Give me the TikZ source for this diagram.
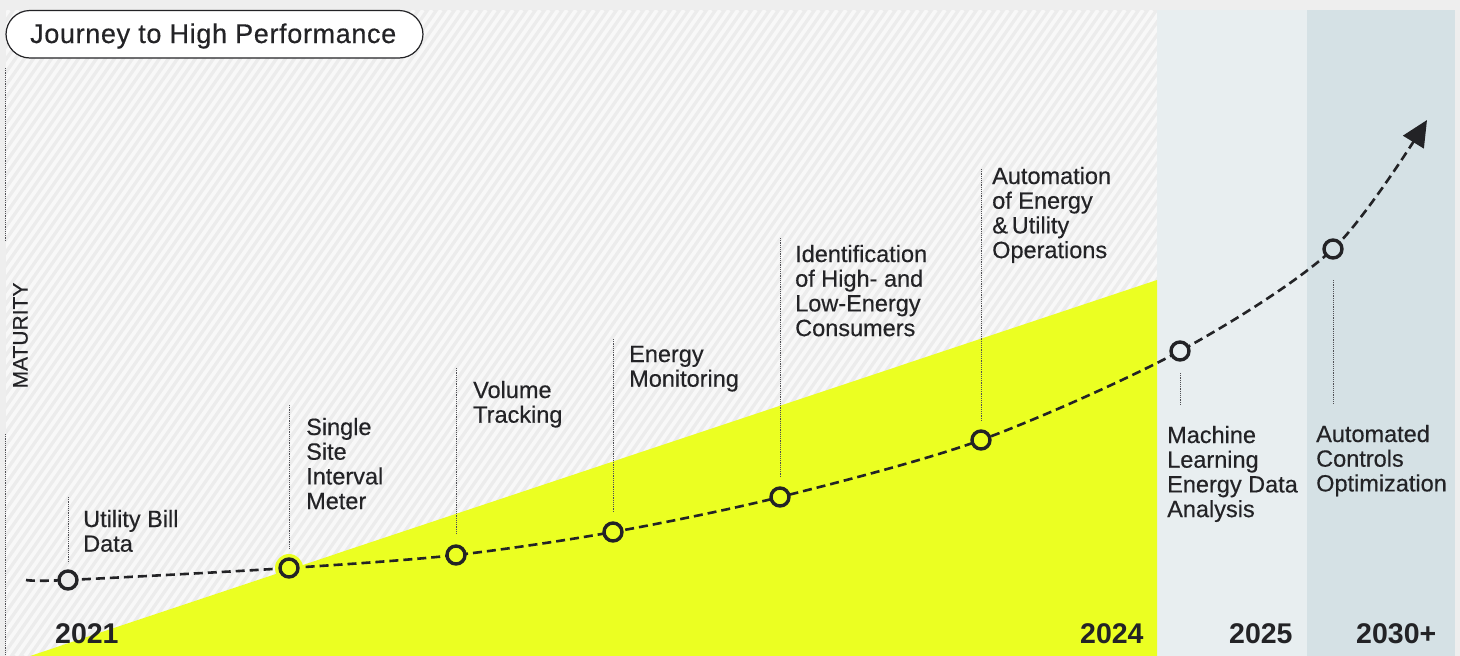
\documentclass[tikz,border=0pt]{standalone}
\usepackage{fontspec}
\setmainfont{Liberation Sans}
\usetikzlibrary{arrows.meta}

\definecolor{outergray}{HTML}{EEEEEE}
\definecolor{hatchbase}{HTML}{ECECEC}
\definecolor{hatchline}{HTML}{F8F8F8}
\definecolor{panelA}{HTML}{E8EEF0}
\definecolor{panelB}{HTML}{D5E1E5}
\definecolor{lime}{HTML}{EBFF22}
\definecolor{ink}{HTML}{232326}
\definecolor{guide}{HTML}{505055}

% stacked label lines; the baseline is that of the first line
\newcommand\stacklines[1]{\vtop{\baselineskip=24.7pt\lineskiplimit=-20pt\tabskip=0pt\halign{##\hfil\cr#1\crcr}}}

\tikzset{
  milestone/.style={circle, draw=ink, line width=3.4pt, minimum size=18pt, inner sep=0pt},
  guideline/.style={draw=guide, line width=0.9pt, dash pattern=on 1.1pt off 1.1pt},
  path line/.style={draw=ink, line width=2.6pt, dash pattern=on 9pt off 5pt},
  steplabel/.style={anchor=base west, inner sep=0pt, text=ink, font=\fontsize{23.5}{24.7}\selectfont\addfontfeature{FakeBold=0.4}},
  yearlabel/.style={anchor=base west, inner sep=0pt, text=ink, font=\fontsize{28.5}{30}\selectfont\bfseries},
}

\begin{document}
\begin{tikzpicture}[x=1pt, y=-1pt]
\useasboundingbox (0,0) rectangle (1460,656);
\fill[outergray] (0,0) rectangle (1460,656);

% hatched field
\fill[hatchbase] (6,10) rectangle (1157,656);
\begin{scope}
  \clip (6,10) rectangle (1157,656);
  \foreach \i in {-470,-461,...,1160}
    \draw[hatchline, line width=3.8pt] (\i,656) -- ++(452,-646);
\end{scope}

% future panels
\fill[panelA] (1157,10) rectangle (1307,656);
\fill[panelB] (1307,10) rectangle (1455,656);

% growth wedge
\fill[lime] (30,656) -- (1157,280) -- (1157,656) -- cycle;

% maturity axis
\coordinate (axA) at (5.5,68);
\coordinate (axB) at (5.5,240);
\coordinate (axC) at (5.5,434);
\coordinate (axD) at (5.5,656);
\draw[guideline] (axA) -- (axB);
\draw[guideline] (axC) -- (axD);
\node[rotate=90, text=ink, inner sep=0pt, font=\fontsize{21}{22}\selectfont\addfontfeature{FakeBold=0.4}] (maturity) at (20.5,335.5) {MATURITY};

% milestone positions
\coordinate (s) at (26,580);
\coordinate (p1) at (68,580);
\coordinate (p2) at (289,568);
\coordinate (p3) at (456,555);
\coordinate (p4) at (613,532);
\coordinate (p5) at (780,497);
\coordinate (p6) at (981,440);
\coordinate (p7) at (1180,351);
\coordinate (p8) at (1333,249);
\coordinate (e) at (1427,120);

% guide lines from milestones to labels
\coordinate (g1a) at (68,497);   \coordinate (g1b) at (68,563);
\coordinate (g2a) at (289,405);  \coordinate (g2b) at (289,550);
\coordinate (g3a) at (456,368);  \coordinate (g3b) at (456,535);
\coordinate (g4a) at (613,339);  \coordinate (g4b) at (613,512);
\coordinate (g5a) at (780,238);  \coordinate (g5b) at (780,477);
\coordinate (g6a) at (981,169);  \coordinate (g6b) at (981,421);
\coordinate (g7a) at (1180,373); \coordinate (g7b) at (1180,404);
\coordinate (g8a) at (1333,280); \coordinate (g8b) at (1333,404);
\foreach \k in {1,...,8} \draw[guideline] (g\k a) -- (g\k b);

% maturity path
\draw[path line, -{Triangle[length=26pt, width=24pt]}]
  plot[smooth, tension=0.5] coordinates {(s) (p1) (p2) (p3) (p4) (p5) (p6) (p7) (p8) (e)};

% milestones
\fill[lime] (p2) circle (14);
\node[milestone, fill=hatchbase] (m1) at (p1) {};
\node[milestone, fill=lime] (m2) at (p2) {};
\node[milestone, fill=lime] (m3) at (p3) {};
\node[milestone, fill=lime] (m4) at (p4) {};
\node[milestone, fill=lime] (m5) at (p5) {};
\node[milestone, fill=lime] (m6) at (p6) {};
\node[milestone, fill=panelA] (m7) at (p7) {};
\node[milestone, fill=panelB] (m8) at (p8) {};

% milestone labels
\node[steplabel] (l1) at (83,527) {\stacklines{Utility Bill\cr Data}};
\node[steplabel] (l2) at (306,435) {\stacklines{Single\cr Site\cr Interval\cr Meter}};
\node[steplabel] (l3) at (473,398) {\stacklines{Volume\cr Tracking}};
\node[steplabel] (l4) at (629,362) {\stacklines{Energy\cr Monitoring}};
\node[steplabel] (l5) at (795,262) {\stacklines{Identification\cr of High- and\cr Low-Energy\cr Consumers}};
\node[steplabel] (l6) at (992,184) {\stacklines{Automation\cr of Energy\cr \&\,Utility\cr Operations}};
\node[steplabel] (l7) at (1167,443) {\stacklines{Machine\cr Learning\cr Energy Data\cr Analysis}};
\node[steplabel] (l8) at (1316,442) {\stacklines{Automated\cr Controls\cr Optimization}};

% years
\node[yearlabel] (y1) at (55,643) {2021};
\node[yearlabel] (y2) at (1080,643) {2024};
\node[yearlabel] (y3) at (1229,643) {2025};
\node[yearlabel] (y4) at (1356,643) {2030+};

% title pill
\draw[fill=white, draw=ink, line width=1.2pt, rounded corners=24pt] (6,10.5) rectangle (423,58);
\node[text=ink, inner sep=0pt, anchor=base west, font=\fontsize{27}{30}\selectfont\addfontfeature{LetterSpace=2.4,FakeBold=0.4}] (title) at (30,43) {Journey to High Performance};
\end{tikzpicture}
\end{document}
